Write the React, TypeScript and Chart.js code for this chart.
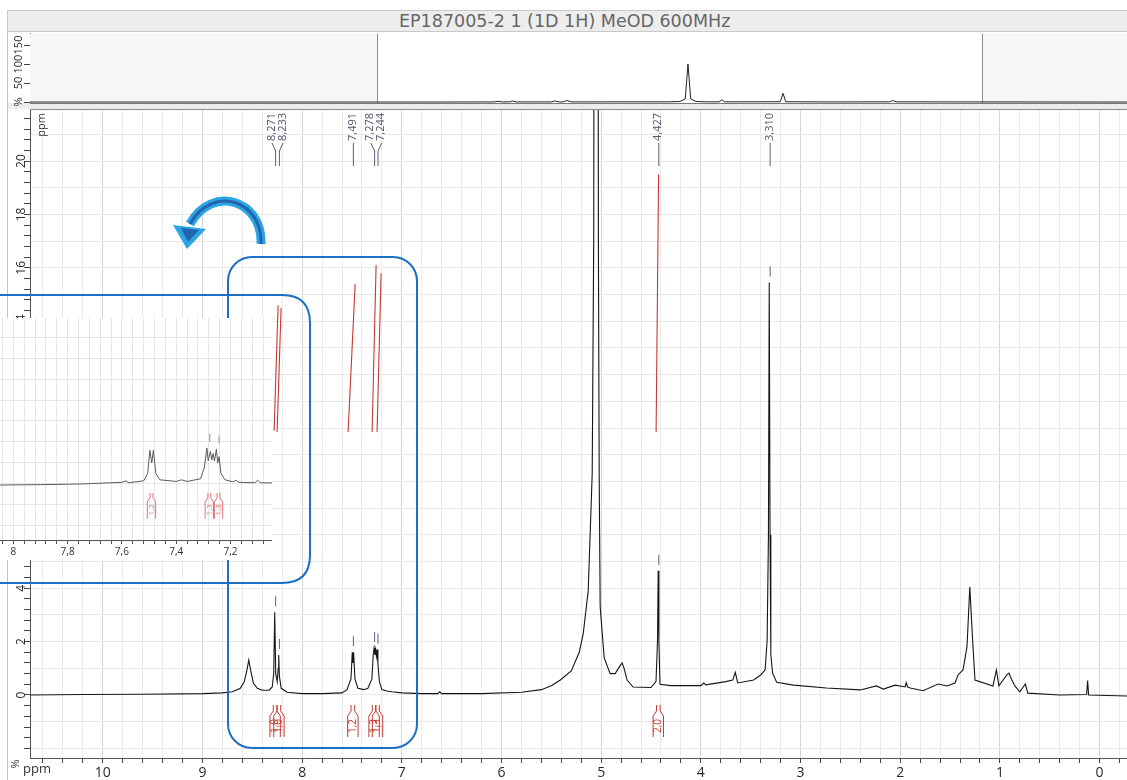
import React, { useEffect, useRef } from "react";
import { Chart, registerables } from "chart.js";

Chart.register(...registerables);

const TITLE = "EP187005-2 1 (1D 1H) MeOD 600MHz";

// ---- main 1H spectrum (ppm, intensity) ----
const mainPpm = [
  10.73, 10.2, 9.6, 9.0, 8.8, 8.7, 8.62, 8.58, 8.555, 8.535, 8.515, 8.49, 8.45, 8.4, 8.33, 8.3, 8.285, 8.275, 8.265, 8.25,
  8.24, 8.235, 8.228, 8.21, 8.15, 8.0, 7.8, 7.6, 7.55, 7.51, 7.497, 7.49, 7.484, 7.47, 7.44, 7.38, 7.34, 7.3, 7.287, 7.278,
  7.27, 7.262, 7.255, 7.248, 7.24, 7.225, 7.2, 7.15, 7.1, 7.0, 6.8, 6.64, 6.62, 6.6, 6.2, 5.8, 5.6, 5.5, 5.41, 5.3,
  5.22, 5.18, 5.13, 5.09, 5.075, 5.068, 5.035, 5.028, 5.02, 5.01, 4.97, 4.91, 4.86, 4.81, 4.79, 4.77, 4.74, 4.68, 4.5, 4.45,
  4.435, 4.428, 4.421, 4.41, 4.3, 4.0, 3.97, 3.95, 3.75, 3.68, 3.655, 3.63, 3.47, 3.4, 3.355, 3.335, 3.322, 3.314, 3.306, 3.298,
  3.28, 3.24, 3.07, 2.74, 2.4, 2.24, 2.17, 2.05, 1.95, 1.94, 1.925, 1.9, 1.77, 1.62, 1.53, 1.45, 1.42, 1.37, 1.33, 1.302,
  1.27, 1.25, 1.07, 1.035, 1.01, 0.96, 0.93, 0.91, 0.88, 0.85, 0.8, 0.745, 0.72, 0.4, 0.13, 0.12, 0.11, -0.275,
];
const mainIntensity = [
  0.0, 0.02, 0.03, 0.05, 0.08, 0.12, 0.25, 0.5, 0.9, 1.31, 0.9, 0.45, 0.25, 0.18, 0.18, 0.3, 0.8, 3.1, 0.8, 0.5,
  1.0, 1.5, 0.7, 0.25, 0.1, 0.05, 0.05, 0.08, 0.2, 0.6, 1.6, 1.2, 1.6, 0.6, 0.25, 0.2, 0.25, 0.6, 1.5, 1.76,
  1.5, 1.7, 1.45, 1.7, 1.2, 0.5, 0.2, 0.15, 0.12, 0.08, 0.05, 0.05, 0.12, 0.05, 0.05, 0.1, 0.2, 0.35, 0.56, 0.9,
  1.6, 2.3, 3.9, 8.3, 17, 40, 40, 17, 8.3, 3.3, 1.4, 0.8, 0.8, 1.1, 1.2, 1.0, 0.56, 0.3, 0.28, 0.5,
  2.0, 4.65, 2.0, 0.4, 0.35, 0.35, 0.45, 0.38, 0.5, 0.56, 0.85, 0.45, 0.56, 0.75, 0.94, 2.06, 6.0, 15.45, 6.0, 1.5,
  0.82, 0.48, 0.37, 0.26, 0.19, 0.34, 0.22, 0.37, 0.3, 0.46, 0.3, 0.26, 0.16, 0.41, 0.34, 0.45, 0.75, 0.94, 1.81, 4.04,
  1.81, 0.56, 0.34, 0.94, 0.34, 0.6, 0.75, 0.82, 0.56, 0.34, 0.12, 0.41, 0.07, 0.0, 0.02, 0.54, 0.0, -0.04,
];

// ---- overview strip (ppm, %) ----
const overviewPpm = [
  17.1, 10.0, 8.6, 8.53, 8.45, 8.3, 8.27, 8.2, 7.55, 7.49, 7.42, 7.33, 7.27, 7.18, 5.4, 5.2, 5.1, 5.05, 5.0, 4.9,
  4.7, 4.48, 4.43, 4.38, 3.36, 3.31, 3.26, 2.5, 1.36, 1.3, 1.24, -2.99,
];
const overviewPercent = [
  0, 0, 0.3, 2, 0.3, 0.5, 3, 0.3, 0.4, 3, 0.4, 0.5, 4, 0.4, 0.5, 1.5, 8, 100, 8, 1.5,
  0.5, 0.5, 6, 0.5, 0.8, 23, 0.8, 0.3, 0.5, 4, 0.5, 0,
];
const overviewWindow = [10.75, -0.33];

// ---- zoomed inset (ppm, intensity) ----
const insetPpm = [
  8.049, 7.9, 7.75, 7.6, 7.585, 7.575, 7.52, 7.505, 7.497, 7.49, 7.484, 7.475, 7.46, 7.4, 7.38, 7.36, 7.31, 7.296, 7.287, 7.282,
  7.274, 7.269, 7.264, 7.259, 7.252, 7.247, 7.242, 7.235, 7.22, 7.19, 7.18, 7.17, 7.11, 7.1, 7.09, 7.047,
];
const insetIntensity = [
  -0.05, -0.03, 0.0, 0.08, 0.15, 0.06, 0.15, 0.5, 1.6, 1.0, 1.6, 0.5, 0.2, 0.12, 0.2, 0.12, 0.25, 0.8, 1.72, 1.1,
  1.55, 1.15, 1.45, 1.1, 1.65, 1.0, 1.3, 0.5, 0.2, 0.1, 0.18, 0.08, 0.06, 0.18, 0.06, 0.05,
];

// ---- peak picks ----
const peakPpm = [8.271, 8.233, 7.491, 7.278, 7.244, 4.427, 3.31];
const peakLabels = ["8,271", "8,233", "7,491", "7,278", "7,244", "4,427", "3,310"];

// ---- integrals ----
const integralCenters = [8.271, 8.233, 7.491, 7.278, 7.244, 4.427];
const integralValues = ["1,0", "1,0", "1,2", "1,3", "1,3", "2,0"];
const integralStartPpm = [8.281, 8.251, 7.539, 7.298, 7.248, 4.449];
const integralEndPpm = [8.241, 8.211, 7.468, 7.258, 7.208, 4.424];
const integralStartValue = [9.9, 9.85, 9.85, 9.85, 9.85, 9.85];
const integralEndValue = [14.6, 14.5, 15.4, 16.1, 15.8, 19.5];

const RED = "#c43a33";
const FONT = "'Open Sans', 'DejaVu Sans', sans-serif";

const nearMult = (v: number, m: number) => Math.abs(v / m - Math.round(v / m)) < 1e-6;

function drawBottle(ctx: any, x: number, top: number, s: number, color: string, text: string) {
  const nh = 1.8 * s;
  const bw = 5.2 * s;
  ctx.save();
  ctx.strokeStyle = color;
  ctx.fillStyle = color;
  ctx.lineWidth = 1;
  ctx.beginPath();
  ctx.moveTo(x - nh, top);
  ctx.lineTo(x - nh, top + 6 * s);
  ctx.lineTo(x - bw, top + 11 * s);
  ctx.lineTo(x - bw, top + 32 * s);
  ctx.moveTo(x + nh, top);
  ctx.lineTo(x + nh, top + 6 * s);
  ctx.lineTo(x + bw, top + 11 * s);
  ctx.lineTo(x + bw, top + 32 * s);
  ctx.stroke();
  ctx.translate(x, top + 21 * s);
  ctx.rotate(-Math.PI / 2);
  ctx.textAlign = "center";
  ctx.textBaseline = "middle";
  ctx.font = `${Math.round(10 * s)}px ${FONT}`;
  ctx.fillText(text, 0, 0);
  ctx.restore();
}

const mainDecor = {
  id: "mainDecor",
  afterDraw(chart: any) {
    const { ctx, chartArea: a, scales } = chart;
    const xs = scales.x;
    const ys = scales.y;
    ctx.save();
    ctx.strokeStyle = "#8a8a8a";
    ctx.lineWidth = 1;
    ctx.beginPath();
    ctx.moveTo(a.left, a.top + 0.5);
    ctx.lineTo(a.right, a.top + 0.5);
    ctx.stroke();

    // axis unit captions
    ctx.fillStyle = "#333";
    ctx.font = `11px ${FONT}`;
    ctx.save();
    ctx.translate(a.left + 12, a.top + 16);
    ctx.rotate(-Math.PI / 2);
    ctx.textAlign = "center";
    ctx.textBaseline = "middle";
    ctx.fillText("ppm", 0, 0);
    ctx.restore();
    ctx.save();
    ctx.translate(16, a.bottom + 6);
    ctx.rotate(-Math.PI / 2);
    ctx.textAlign = "center";
    ctx.textBaseline = "middle";
    ctx.fillText("%", 0, 0);
    ctx.restore();
    ctx.font = `13px ${FONT}`;
    ctx.textAlign = "center";
    ctx.textBaseline = "middle";
    ctx.fillText("ppm", 37, a.bottom + 11);

    // peak labels with connectors
    const px = peakPpm.map((p) => xs.getPixelForValue(p));
    const lx = px.slice();
    let i = 0;
    while (i < px.length) {
      let j = i;
      while (j + 1 < px.length && Math.abs(px[j + 1] - px[j]) < 12) j++;
      if (j > i) {
        const n = j - i + 1;
        let mean = 0;
        for (let k = i; k <= j; k++) mean += px[k];
        mean /= n;
        for (let k = i; k <= j; k++) lx[k] = mean + (k - i - (n - 1) / 2) * 11;
      }
      i = j + 1;
    }
    ctx.strokeStyle = "#5b6072";
    ctx.fillStyle = "#4f5468";
    ctx.lineWidth = 1;
    ctx.font = `11px ${FONT}`;
    peakPpm.forEach((p, k) => {
      const yLab = a.top + 34;
      ctx.beginPath();
      ctx.moveTo(lx[k] + 0.5, yLab);
      ctx.lineTo(px[k] + 0.5, a.top + 42);
      ctx.lineTo(px[k] + 0.5, a.top + 57);
      ctx.stroke();
      ctx.save();
      ctx.translate(lx[k], yLab - 2);
      ctx.rotate(-Math.PI / 2);
      ctx.textAlign = "left";
      ctx.textBaseline = "middle";
      ctx.fillText(peakLabels[k], 0, 0);
      ctx.restore();
      let top = -Infinity;
      mainPpm.forEach((q, m) => {
        if (Math.abs(q - p) < 0.012) top = Math.max(top, mainIntensity[m]);
      });
      if (top < ys.max) {
        const py = ys.getPixelForValue(top);
        ctx.beginPath();
        ctx.moveTo(px[k] + 0.5, py - 16);
        ctx.lineTo(px[k] + 0.5, py - 6);
        ctx.stroke();
      }
    });

    const zero = ys.getPixelForValue(0);
    integralCenters.forEach((c, k) => {
      drawBottle(ctx, xs.getPixelForValue(c), zero + 10, 1, RED, integralValues[k]);
    });
    ctx.restore();
  },
};

const overviewDecor = {
  id: "overviewDecor",
  beforeDatasetsDraw(chart: any) {
    const { ctx, chartArea: a, scales } = chart;
    const xl = scales.x.getPixelForValue(overviewWindow[0]);
    const xr = scales.x.getPixelForValue(overviewWindow[1]);
    ctx.save();
    ctx.fillStyle = "#f6f6f6";
    ctx.fillRect(a.left, a.top, xl - a.left, a.bottom - a.top);
    ctx.fillRect(xr, a.top, a.right - xr, a.bottom - a.top);
    ctx.strokeStyle = "#8f8f8f";
    ctx.lineWidth = 1;
    ctx.beginPath();
    ctx.moveTo(Math.round(xl) + 0.5, a.top);
    ctx.lineTo(Math.round(xl) + 0.5, a.bottom);
    ctx.moveTo(Math.round(xr) + 0.5, a.top);
    ctx.lineTo(Math.round(xr) + 0.5, a.bottom);
    ctx.stroke();
    ctx.strokeStyle = "#7a7a7a";
    ctx.beginPath();
    ctx.moveTo(a.left, a.bottom + 0.5);
    ctx.lineTo(a.right, a.bottom + 0.5);
    ctx.stroke();
    ctx.restore();
  },
};

const insetDecor = {
  id: "insetDecor",
  afterDraw(chart: any) {
    const { ctx, scales } = chart;
    const xs = scales.x;
    const ys = scales.y;
    const zero = ys.getPixelForValue(0);
    ctx.save();
    integralCenters.forEach((c, k) => {
      if (c < xs.min || c > xs.max) return;
      drawBottle(ctx, xs.getPixelForValue(c), zero + 9, 0.8, "#e07070", integralValues[k]);
    });
    ctx.strokeStyle = "#8a8fa0";
    ctx.lineWidth = 1;
    [7.278, 7.244].forEach((p) => {
      let top = -Infinity;
      insetPpm.forEach((q, m) => {
        if (Math.abs(q - p) < 0.012) top = Math.max(top, insetIntensity[m]);
      });
      const x = xs.getPixelForValue(p);
      const py = ys.getPixelForValue(top);
      ctx.beginPath();
      ctx.moveTo(x + 0.5, py - 14);
      ctx.lineTo(x + 0.5, py - 6);
      ctx.stroke();
    });
    ctx.restore();
  },
};

export default function App() {
  const mainRef = useRef<HTMLCanvasElement>(null);
  const ovRef = useRef<HTMLCanvasElement>(null);
  const insetRef = useRef<HTMLCanvasElement>(null);

  useEffect(() => {
    const charts: any[] = [];

    const integralSets = integralCenters.map((_, k) => ({
      data: [
        { x: integralStartPpm[k], y: integralStartValue[k] },
        { x: integralEndPpm[k], y: integralEndValue[k] },
      ],
      borderColor: RED,
      borderWidth: 1.1,
      pointRadius: 0,
      tension: 0,
      yAxisID: "y",
    }));

    charts.push(
      new Chart(mainRef.current as HTMLCanvasElement, {
        type: "line",
        data: {
          datasets: [
            {
              data: mainPpm.map((p, k) => ({ x: p, y: mainIntensity[k] })),
              borderColor: "#161616",
              borderWidth: 1.1,
              pointRadius: 0,
              tension: 0,
              yAxisID: "y",
            },
            ...integralSets,
          ],
        },
        options: {
          responsive: false,
          animation: false,
          layout: { padding: { top: 109, left: 0, right: 0, bottom: 0 } },
          plugins: { legend: { display: false }, tooltip: { enabled: false } },
          scales: {
            x: {
              type: "linear",
              reverse: true,
              min: -0.275,
              max: 10.73,
              position: "bottom",
              afterFit: (s: any) => {
                s.height = 22;
              },
              ticks: {
                stepSize: 0.2,
                includeBounds: false,
                autoSkip: false,
                maxRotation: 0,
                minRotation: 0,
                padding: 2,
                color: "#2a2a2a",
                font: { family: FONT, size: 14 },
                callback: (v: any) => (nearMult(v, 1) ? String(Math.round(v)) : ""),
              },
              grid: {
                color: (c: any) => (c.tick && nearMult(c.tick.value, 1) ? "#d6d6d6" : "#ebebeb"),
                tickColor: "#444",
                tickLength: 5,
              },
              border: { display: true, color: "#555" },
            },
            y: {
              type: "linear",
              min: -2.36,
              max: 21.95,
              position: "left",
              afterFit: (s: any) => {
                s.width = 30;
              },
              ticks: {
                stepSize: 0.4,
                includeBounds: false,
                autoSkip: false,
                minRotation: 90,
                maxRotation: 90,
                crossAlign: "center",
                padding: -4,
                color: "#2a2a2a",
                font: { family: FONT, size: 12 },
                callback: (v: any) => (v > -0.1 && nearMult(v, 2) ? String(Math.round(v)) : ""),
              },
              grid: { drawOnChartArea: false, tickColor: "#444", tickLength: 6 },
              border: { display: true, color: "#555" },
            },
            yg: {
              type: "linear",
              min: -2.36,
              max: 21.95,
              position: "left",
              afterFit: (s: any) => {
                s.width = 0;
              },
              ticks: { display: false, stepSize: 1, includeBounds: false },
              grid: { color: "#e9e9e9", drawTicks: false },
              border: { display: false },
            },
          },
        } as any,
        plugins: [mainDecor],
      } as any)
    );

    charts.push(
      new Chart(ovRef.current as HTMLCanvasElement, {
        type: "line",
        data: {
          datasets: [
            {
              data: overviewPpm.map((p, k) => ({ x: p, y: overviewPercent[k] })),
              borderColor: "#222",
              borderWidth: 1,
              pointRadius: 0,
              tension: 0,
            },
          ],
        },
        options: {
          responsive: false,
          animation: false,
          layout: { padding: { top: 1, left: 0, right: 0, bottom: 6 } },
          plugins: { legend: { display: false }, tooltip: { enabled: false } },
          scales: {
            x: { type: "linear", reverse: true, min: -2.99, max: 17.1, display: false },
            y: {
              type: "linear",
              min: -2.5,
              max: 180,
              afterFit: (s: any) => {
                s.width = 30;
              },
              ticks: {
                stepSize: 50,
                includeBounds: false,
                autoSkip: false,
                minRotation: 90,
                maxRotation: 90,
                crossAlign: "center",
                padding: -4,
                color: "#2a2a2a",
                font: { family: FONT, size: 11 },
                callback: (v: any) => (v === 0 ? "%" : String(v)),
              },
              grid: { drawOnChartArea: false, tickColor: "#444", tickLength: 6 },
              border: { display: true, color: "#555" },
            },
          },
        } as any,
        plugins: [overviewDecor],
      } as any)
    );

    charts.push(
      new Chart(insetRef.current as HTMLCanvasElement, {
        type: "line",
        data: {
          datasets: [
            {
              data: insetPpm.map((p, k) => ({ x: p, y: insetIntensity[k] })),
              borderColor: "#5a5a5a",
              borderWidth: 1,
              pointRadius: 0,
              tension: 0,
            },
          ],
        },
        options: {
          responsive: false,
          animation: false,
          layout: { padding: 0 },
          plugins: { legend: { display: false }, tooltip: { enabled: false } },
          scales: {
            x: {
              type: "linear",
              reverse: true,
              min: 7.047,
              max: 8.049,
              afterFit: (s: any) => {
                s.height = 20;
              },
              ticks: {
                stepSize: 0.04,
                includeBounds: false,
                autoSkip: false,
                maxRotation: 0,
                minRotation: 0,
                padding: 2,
                color: "#333",
                font: { family: FONT, size: 10 },
                callback: (v: any) =>
                  nearMult(v, 0.2) ? (nearMult(v, 1) ? String(Math.round(v)) : Number(v).toFixed(1).replace(".", ",")) : "",
              },
              grid: { color: "#e6e6e6", tickColor: "#555", tickLength: 4 },
              border: { display: true, color: "#555" },
            },
            y: {
              type: "linear",
              min: -2.667,
              max: 7.905,
              afterFit: (s: any) => {
                s.width = 0;
              },
              ticks: { display: false, stepSize: 1, includeBounds: false },
              grid: { color: "#e6e6e6", drawTicks: false },
              border: { display: false },
            },
          },
        } as any,
        plugins: [insetDecor],
      } as any)
    );

    return () => charts.forEach((c) => c.destroy());
  }, []);

  return (
    <div
      style={{
        position: "absolute",
        left: 0,
        top: 0,
        width: 1127,
        height: 780,
        overflow: "hidden",
        background: "#fff",
        fontFamily: FONT,
      }}
    >
      <div style={{ position: "absolute", left: 7, top: 10, width: 1, height: 770, background: "#c4c4c4" }} />
      <div
        style={{
          position: "absolute",
          left: 7,
          top: 10,
          width: 1120,
          height: 22,
          background: "#ededed",
          borderTop: "1px solid #c9c9c9",
          borderBottom: "1px solid #c9c9c9",
          borderLeft: "1px solid #c9c9c9",
          boxSizing: "border-box",
          color: "#666",
        }}
      >
        <span
          style={{
            position: "absolute",
            left: 391,
            top: 0,
            fontFamily: "'DejaVu Sans', sans-serif",
            fontSize: 17.5,
            lineHeight: "20px",
            whiteSpace: "nowrap",
          }}
        >
          {TITLE}
        </span>
      </div>
      <div style={{ position: "absolute", left: 8, top: 103, width: 1119, height: 6, background: "#ececec" }} />
      <canvas ref={ovRef} width={1127} height={78} style={{ position: "absolute", left: 0, top: 31, display: "block" }} />
      <canvas ref={mainRef} width={1127} height={780} style={{ position: "absolute", left: 0, top: 0, display: "block" }} />
      <svg width={1127} height={780} style={{ position: "absolute", left: 0, top: 0 }}>
        <rect x={228} y={257} width={189} height={491} rx={24} ry={24} fill="none" stroke="#1b6fc4" strokeWidth={2} />
      </svg>
      <div style={{ position: "absolute", left: 0, top: 318, width: 272, height: 242, background: "#fff" }}>
        <canvas ref={insetRef} width={272} height={242} style={{ display: "block" }} />
      </div>
      <svg width={1127} height={780} style={{ position: "absolute", left: 0, top: 0 }}>
        <path d="M -40 295 H 282 Q 310 295 310 323 V 555 Q 310 583 282 583 H -40" fill="none" stroke="#1b6fc4" strokeWidth={2} />
        <path d="M 261 244 C 263 200, 212 184, 190 224" fill="none" stroke="#2ba4e4" strokeWidth={9} />
        <path d="M 261 244 C 263 200, 212 184, 190 224" fill="none" stroke="#2463ae" strokeWidth={3} />
        <polygon points="173,225 206,229 187,249" fill="#2ba4e4" />
        <polygon points="181,228 199,230 188,242" fill="#2463ae" />
      </svg>
    </div>
  );
}
